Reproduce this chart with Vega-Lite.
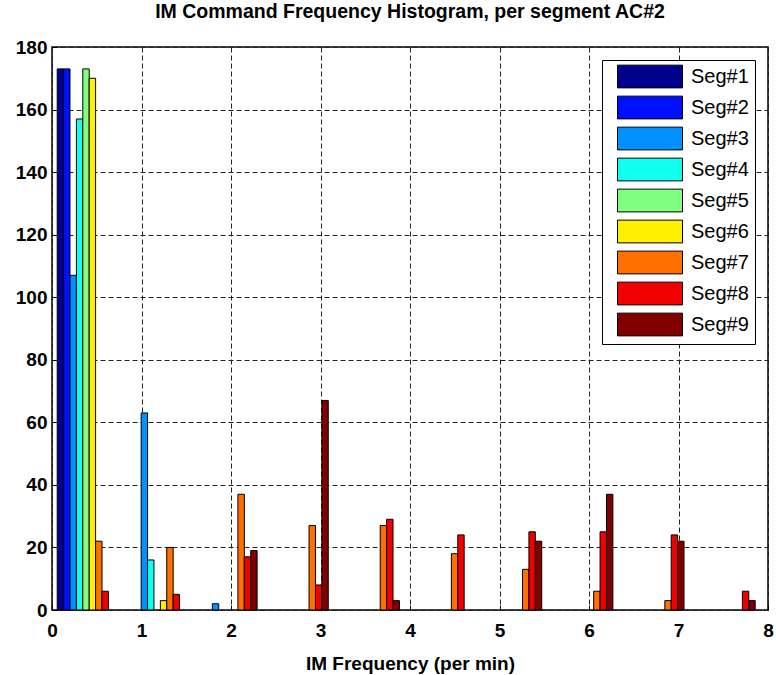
{
  "$schema": "https://vega.github.io/schema/vega-lite/v6.json",
  "autosize": {"type": "none"},
  "width": 716,
  "height": 563,
  "padding": {"left": 52, "top": 47, "right": 8, "bottom": 65},
  "background": "white",
  "title": {
    "text": "IM Command Frequency Histogram, per segment AC#2",
    "font": "Liberation Sans",
    "fontSize": 19.5,
    "fontWeight": "bold",
    "color": "black",
    "anchor": "middle",
    "offset": 16
  },
  "config": {
    "view": {"stroke": "black", "strokeWidth": 1.5},
    "axis": {
      "labelFont": "Liberation Sans",
      "labelFontSize": 19,
      "labelFontWeight": "bold",
      "labelColor": "black",
      "titleFont": "Liberation Sans",
      "titleFontSize": 19,
      "titleFontWeight": "bold",
      "titleColor": "black",
      "gridColor": "#222222",
      "gridDash": [5, 3],
      "gridWidth": 1,
      "gridOpacity": 1,
      "tickColor": "black",
      "tickSize": -5,
      "domain": false
    }
  },
  "data": {
    "values": [
      {"bin": 0.38, "k": 1, "seg": "Seg#1", "count": 173},
      {"bin": 0.38, "k": 2, "seg": "Seg#2", "count": 173},
      {"bin": 0.38, "k": 3, "seg": "Seg#3", "count": 107},
      {"bin": 0.38, "k": 4, "seg": "Seg#4", "count": 157},
      {"bin": 0.38, "k": 5, "seg": "Seg#5", "count": 173},
      {"bin": 0.38, "k": 6, "seg": "Seg#6", "count": 170},
      {"bin": 0.38, "k": 7, "seg": "Seg#7", "count": 22},
      {"bin": 0.38, "k": 8, "seg": "Seg#8", "count": 6},
      {"bin": 1.175, "k": 3, "seg": "Seg#3", "count": 63},
      {"bin": 1.175, "k": 4, "seg": "Seg#4", "count": 16},
      {"bin": 1.175, "k": 6, "seg": "Seg#6", "count": 3},
      {"bin": 1.175, "k": 7, "seg": "Seg#7", "count": 20},
      {"bin": 1.175, "k": 8, "seg": "Seg#8", "count": 5},
      {"bin": 1.97, "k": 3, "seg": "Seg#3", "count": 2},
      {"bin": 1.97, "k": 7, "seg": "Seg#7", "count": 37},
      {"bin": 1.97, "k": 8, "seg": "Seg#8", "count": 17},
      {"bin": 1.97, "k": 9, "seg": "Seg#9", "count": 19},
      {"bin": 2.765, "k": 7, "seg": "Seg#7", "count": 27},
      {"bin": 2.765, "k": 8, "seg": "Seg#8", "count": 8},
      {"bin": 2.765, "k": 9, "seg": "Seg#9", "count": 67},
      {"bin": 3.56, "k": 7, "seg": "Seg#7", "count": 27},
      {"bin": 3.56, "k": 8, "seg": "Seg#8", "count": 29},
      {"bin": 3.56, "k": 9, "seg": "Seg#9", "count": 3},
      {"bin": 4.355, "k": 7, "seg": "Seg#7", "count": 18},
      {"bin": 4.355, "k": 8, "seg": "Seg#8", "count": 24},
      {"bin": 5.15, "k": 7, "seg": "Seg#7", "count": 13},
      {"bin": 5.15, "k": 8, "seg": "Seg#8", "count": 25},
      {"bin": 5.15, "k": 9, "seg": "Seg#9", "count": 22},
      {"bin": 5.945, "k": 7, "seg": "Seg#7", "count": 6},
      {"bin": 5.945, "k": 8, "seg": "Seg#8", "count": 25},
      {"bin": 5.945, "k": 9, "seg": "Seg#9", "count": 37},
      {"bin": 6.74, "k": 7, "seg": "Seg#7", "count": 3},
      {"bin": 6.74, "k": 8, "seg": "Seg#8", "count": 24},
      {"bin": 6.74, "k": 9, "seg": "Seg#9", "count": 22},
      {"bin": 7.535, "k": 8, "seg": "Seg#8", "count": 6},
      {"bin": 7.535, "k": 9, "seg": "Seg#9", "count": 3}
    ]
  },
  "transform": [
    {"calculate": "datum.bin + (datum.k - 5.5) * 0.0715", "as": "x0"},
    {"calculate": "datum.x0 + 0.0715", "as": "x1"}
  ],
  "mark": {"type": "bar", "stroke": "black", "strokeWidth": 1, "opacity": 1},
  "encoding": {
    "x": {
      "field": "x0",
      "type": "quantitative",
      "scale": {"domain": [0, 8], "nice": false, "zero": false},
      "axis": {"title": "IM Frequency (per min)", "values": [0, 1, 2, 3, 4, 5, 6, 7, 8], "format": "d", "labelPadding": 16, "titlePadding": 14, "labelFlush": false}
    },
    "x2": {"field": "x1"},
    "y": {
      "field": "count",
      "type": "quantitative",
      "scale": {"domain": [0, 180], "nice": false},
      "axis": {"title": null, "values": [0, 20, 40, 60, 80, 100, 120, 140, 160, 180], "labelPadding": 10}
    },
    "y2": {"datum": 0},
    "fill": {
      "field": "seg",
      "type": "nominal",
      "scale": {
        "domain": ["Seg#1", "Seg#2", "Seg#3", "Seg#4", "Seg#5", "Seg#6", "Seg#7", "Seg#8", "Seg#9"],
        "range": ["#00008F", "#0010FF", "#0090FF", "#10FFEF", "#80FF80", "#FFEF00", "#FF7000", "#F00000", "#800000"]
      },
      "legend": {
        "title": null,
        "orient": "none",
        "legendX": 550,
        "legendY": 13,
        "symbolType": "M-0.1,-1.1375H6.4V1.1375H-0.1Z",
        "symbolSize": 400,
        "symbolStrokeColor": "black",
        "symbolStrokeWidth": 1,
        "symbolOpacity": 1,
        "labelFont": "Liberation Sans",
        "labelFontSize": 20,
        "labelColor": "black",
        "labelOffset": 62,
        "labelExpr": "datum.label + '\u00a0\u00a0'",
        "rowPadding": 4,
        "padding": 6,
        "strokeColor": "black",
        "fillColor": "white",
        "cornerRadius": 0
      }
    }
  }
}
